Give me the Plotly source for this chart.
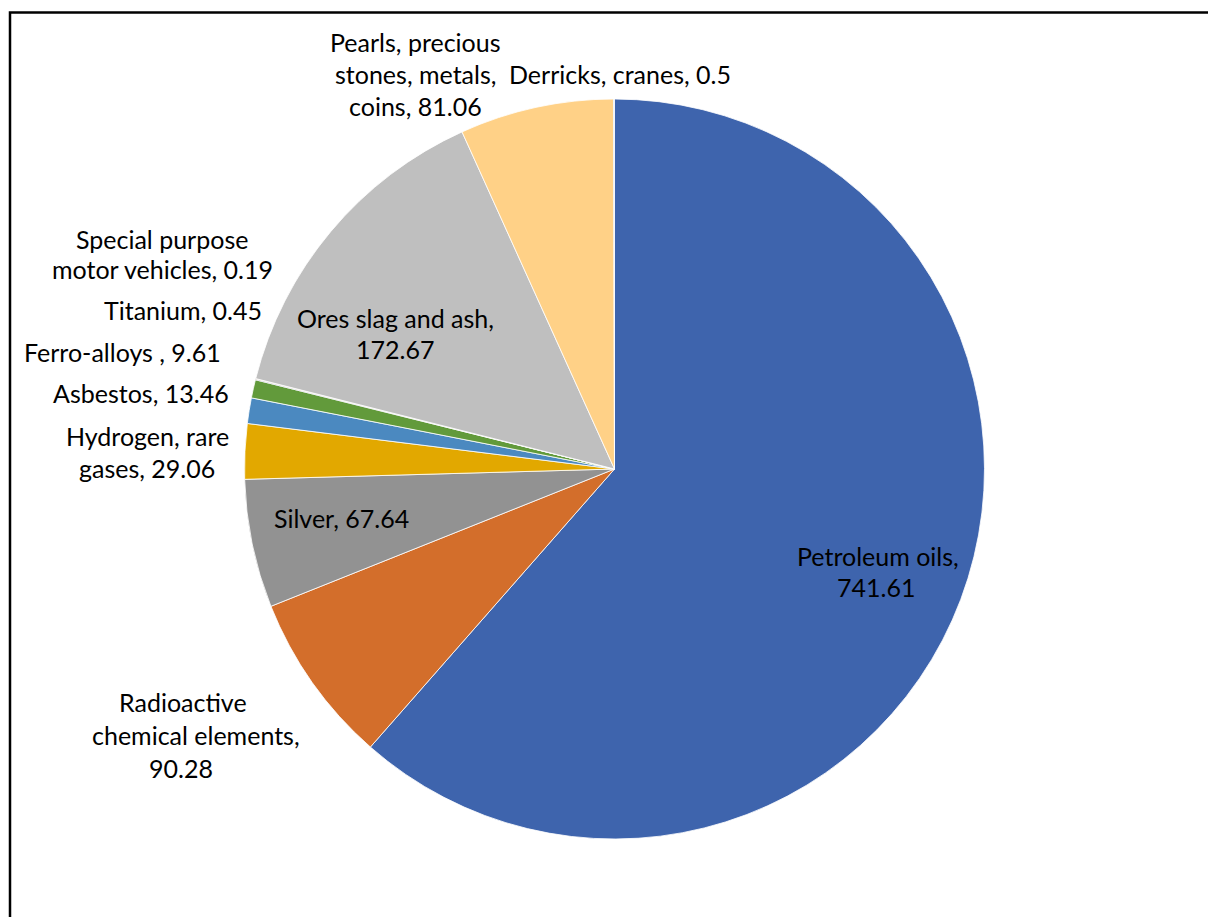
import plotly.graph_objects as go

W, H = 1208, 917

categories = [
    "Petroleum oils", "Radioactive chemical elements", "Silver", "Hydrogen, rare gases",
    "Asbestos", "Ferro-alloys ", "Titanium", "Special purpose motor vehicles",
    "Ores slag and ash", "Pearls, precious stones, metals, coins", "Derricks, cranes",
]
values = [741.61, 90.28, 67.64, 29.06, 13.46, 9.61, 0.45, 0.19, 172.67, 81.06, 0.5]
value_text = ["741.61", "90.28", "67.64", "29.06", "13.46", "9.61", "0.45", "0.19", "172.67", "81.06", "0.5"]
colors = ["#3E64AD", "#D36E2B", "#929292", "#E2A800", "#4B89C0", "#629A3B",
          "#264478", "#9E480E", "#BFBFBF", "#FFD187", "#7FA8D8"]

# label lines as displayed (wrapped text of "name, value")
label_lines = [
    ["Petroleum oils,", "741.61"],
    ["Radioactive", "chemical elements,", "90.28"],
    ["Silver, 67.64"],
    ["Hydrogen, rare", "gases, 29.06"],
    ["Asbestos, 13.46"],
    ["Ferro-alloys , 9.61"],
    ["Titanium, 0.45"],
    ["Special purpose", "motor vehicles, 0.19"],
    ["Ores slag and ash,", "172.67"],
    ["Pearls, precious", "stones, metals,", "coins, 81.06"],
    ["Derricks, cranes, 0.5"],
]
# label line centres in pixels (x per line, y per line)
label_x = [[878, 876], [183, 196, 181], [341], [147, 147], [141], [122], [183], [162, 162],
           [395, 395], [415, 415, 415], [620]]
label_y = [[556, 587], [702, 735, 768], [518], [436, 468], [393], [352], [310], [239, 269],
           [318, 349], [42, 74, 106], [74]]

cx, cy, r = 614.5, 469, 370

fig = go.Figure(go.Pie(
    labels=categories,
    values=values,
    sort=False,
    direction="clockwise",
    rotation=0,
    marker=dict(colors=colors, line=dict(color="rgba(255,255,255,0.8)", width=1)),
    textinfo="none",
    customdata=value_text,
    hovertemplate="%{label}, %{customdata}<extra></extra>",
    domain=dict(x=[(cx - r) / W, (cx + r) / W], y=[1 - (cy + r) / H, 1 - (cy - r) / H]),
    showlegend=False,
))

annotations = []
for lines, xs, ys in zip(label_lines, label_x, label_y):
    for t, x, y in zip(lines, xs, ys):
        annotations.append(dict(
            text=t, x=x / W, y=1 - y / H, xref="paper", yref="paper",
            xanchor="center", yanchor="middle", showarrow=False,
            font=dict(family="Lato, Carlito, sans-serif", size=25, color="#000000"),
        ))

fig.update_layout(
    width=W, height=H,
    margin=dict(l=0, r=0, t=0, b=0),
    paper_bgcolor="white",
    plot_bgcolor="white",
    annotations=annotations,
    shapes=[dict(type="rect", xref="paper", yref="paper",
                 x0=10 / W, x1=1.02, y0=-0.02, y1=1 - 12.5 / H,
                 line=dict(color="black", width=2.5))],
)

fig.write_html("out.html")
